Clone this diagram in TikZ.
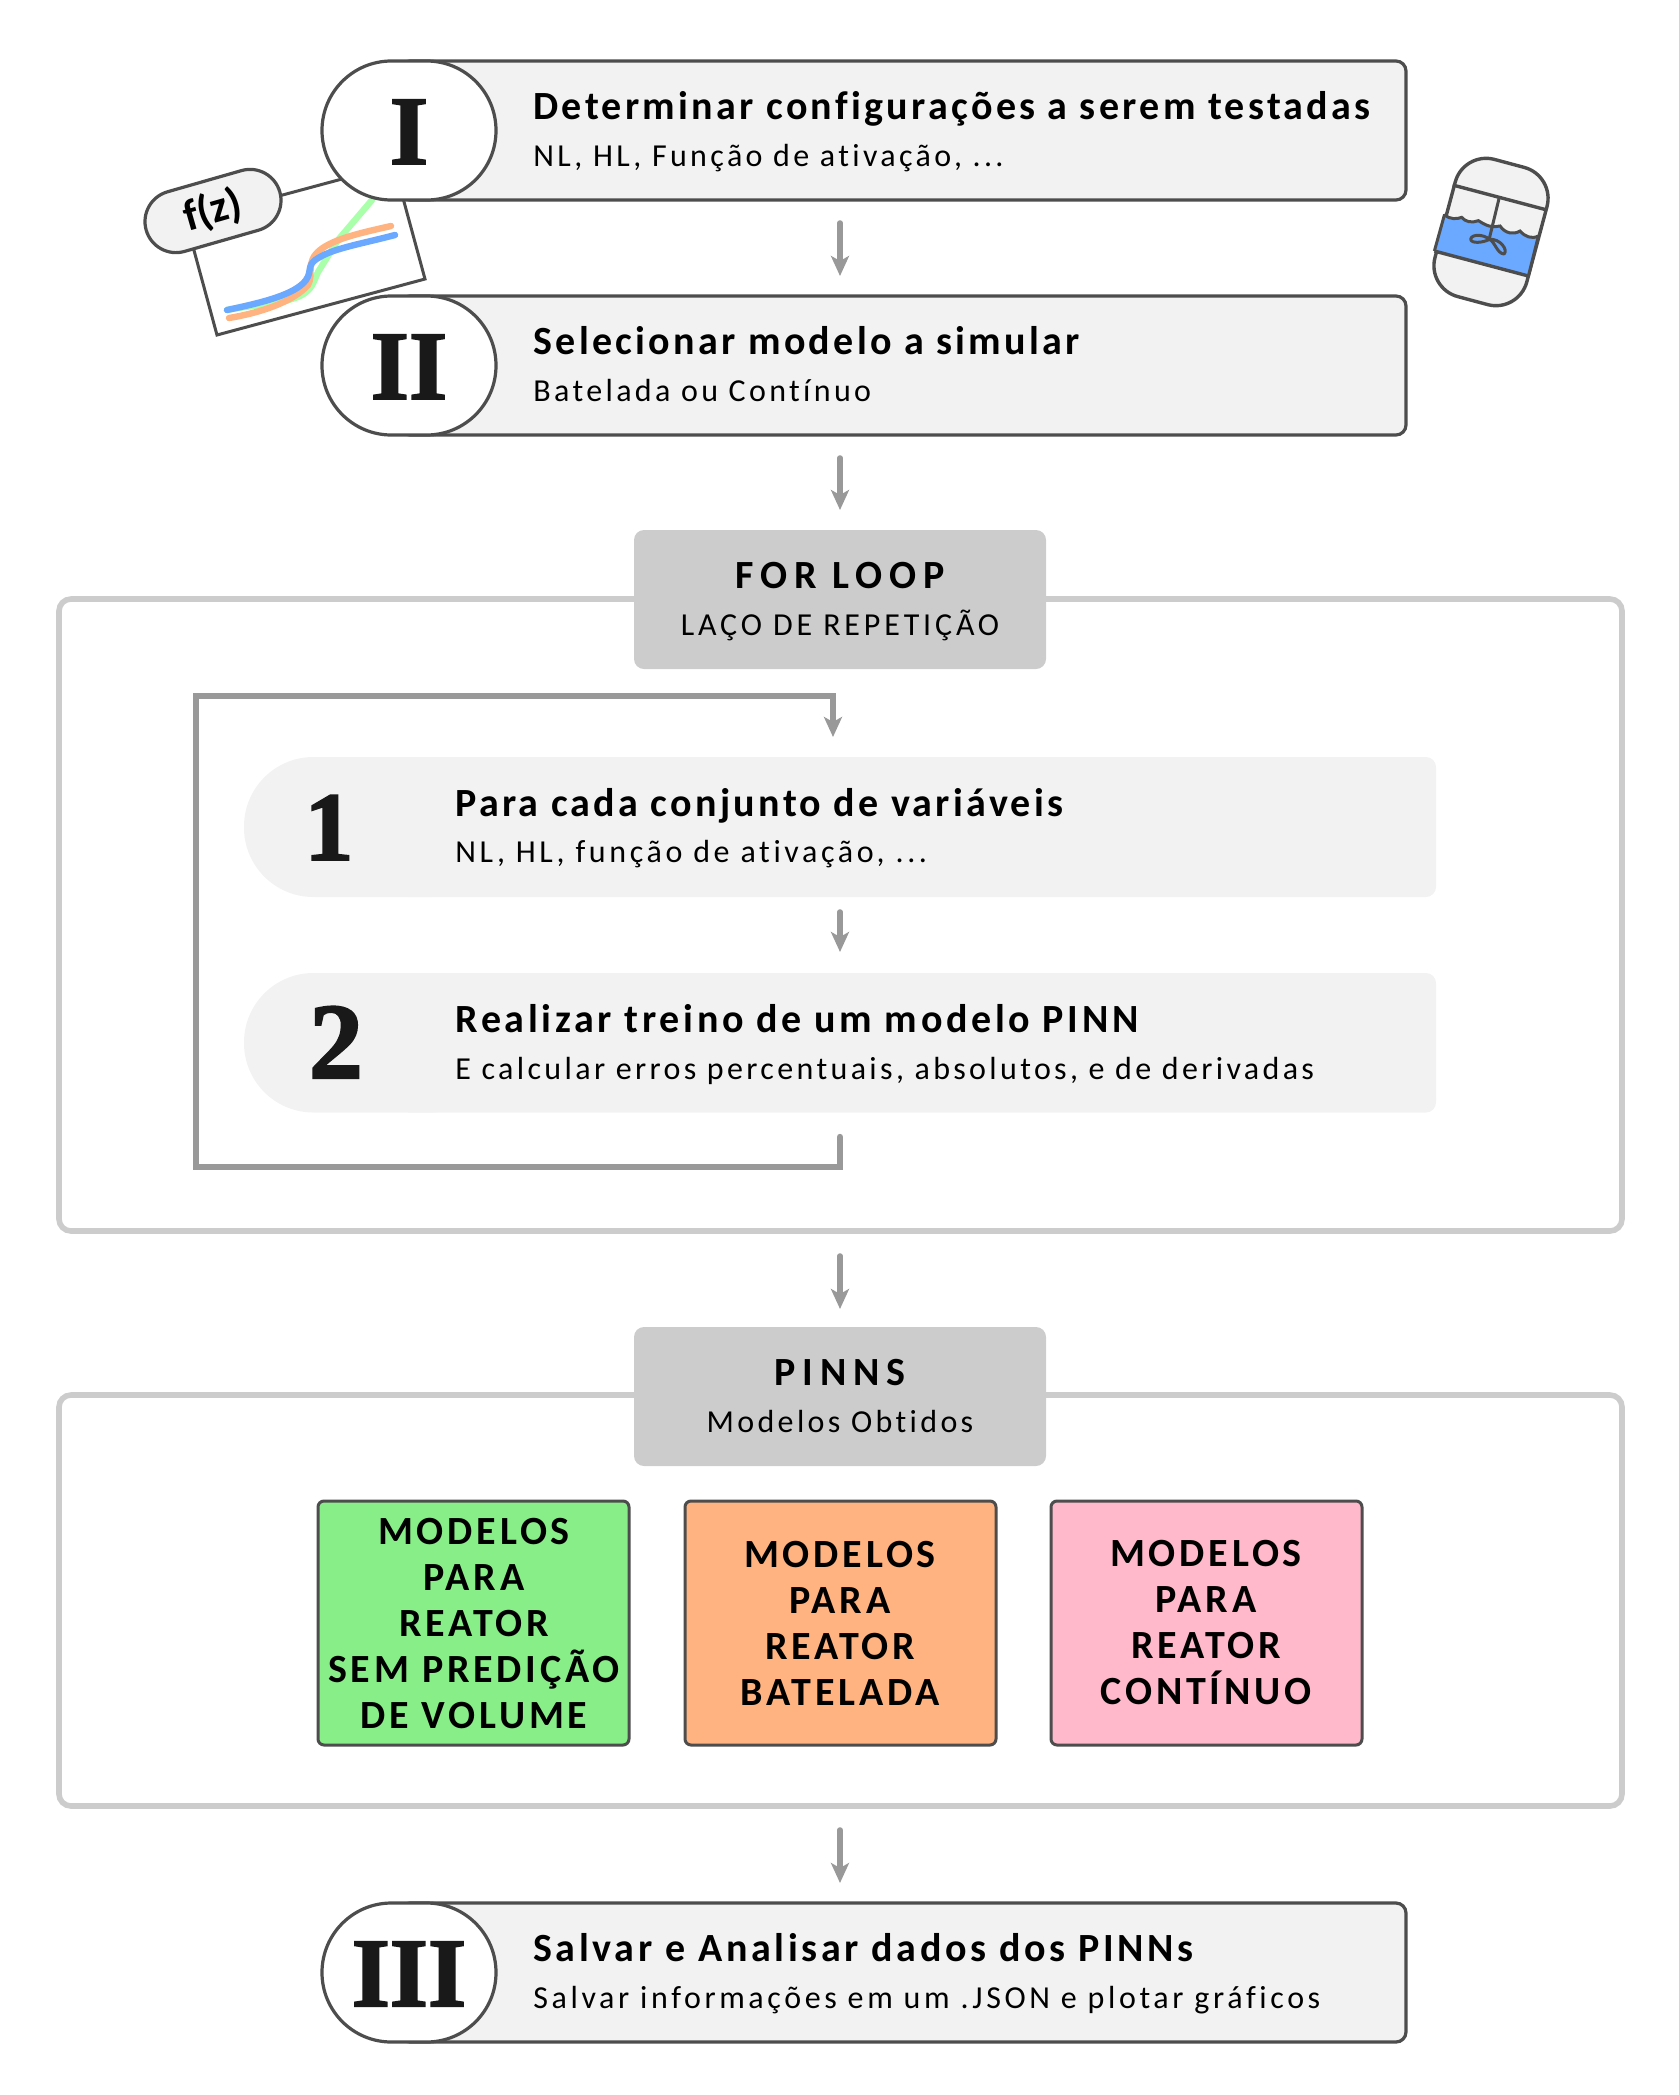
\documentclass[tikz,border=0pt]{standalone}
\usepackage{fontspec}
\usetikzlibrary{arrows.meta}
\newfontfamily\hfont[LetterSpace=8.3,Ligatures=NoCommon]{Carlito}
\newfontfamily\hwfont[LetterSpace=9.2,Ligatures=NoCommon]{Carlito}
\newfontfamily\mfont[LetterSpace=9.5,Ligatures=NoCommon]{Carlito}
\newfontfamily\lfont[LetterSpace=17,Ligatures=NoCommon]{Carlito}
\newfontfamily\sfont[LetterSpace=10.5,Ligatures=NoCommon]{Carlito}
\newfontfamily\swfont[LetterSpace=11.3,Ligatures=NoCommon]{Carlito}
\newfontfamily\scfont[LetterSpace=12,Ligatures=NoCommon]{Carlito}
\newfontfamily\pfont{Carlito}
\newfontfamily\nfont[FakeBold=2]{Liberation Serif Bold}
\newcommand\hd[1]{{\hfont\bfseries\fontsize{20}{23}\selectfont #1}}
\newcommand\hdw[1]{{\hwfont\bfseries\fontsize{20}{23}\selectfont #1}}
\newcommand\labhd[1]{{\lfont\bfseries\fontsize{20}{23}\selectfont #1}}
\newcommand\sbt[1]{{\sfont\fontsize{16}{19}\selectfont #1}}
\newcommand\sbtw[1]{{\swfont\fontsize{16}{19}\selectfont #1}}
\newcommand\numeralt[2][49]{{\nfont\fontsize{#1}{#1}\selectfont #2}}
\newcommand\bx[6]{\node[#2,minimum width={((#5)-(#3))*0.5pt},minimum height={((#6)-(#4))*0.5pt}] (#1) at ({((#3)+(#5))/2},{((#4)+(#6))/2}) {};}
\definecolor{ink}{HTML}{4D4D4D}
\definecolor{pale}{HTML}{F2F2F2}
\definecolor{lab}{HTML}{CCCCCC}
\definecolor{arrg}{HTML}{999999}
\definecolor{cblue}{HTML}{6AA9FF}
\definecolor{corange}{HTML}{FFB380}
\definecolor{cgreen}{HTML}{AAFFAA}
\definecolor{cmint}{HTML}{88EE88}
\definecolor{cpink}{HTML}{FFB9CB}
\tikzset{
  shape box/.style={rectangle,inner sep=0pt,outer sep=0pt},
  graybox/.style={shape box,draw=ink,line width=1.6pt,fill=pale,rounded corners=5pt},
  whitepill/.style={shape box,draw=ink,line width=1.6pt,fill=white,rounded corners=34.7pt},
  softbox/.style={shape box,fill=pale,rounded corners=5pt},
  softpill/.style={shape box,fill=pale,rounded corners=34.7pt},
  labelbox/.style={shape box,fill=lab,rounded corners=5pt},
  frame/.style={shape box,draw=lab,line width=2.8pt,rounded corners=6pt},
  modelbox/.style={shape box,draw=ink,line width=1.5pt,rounded corners=3pt},
  arr/.style={draw=arrg,line width=2.8pt,line cap=round,-{Stealth[length=10pt,width=9pt,inset=2.5pt]}},
  title/.style={anchor=base west,inner sep=0pt,text=black},
  ctitle/.style={anchor=base,inner sep=0pt,text=black},
  numeral/.style={anchor=base,inner sep=0pt,text=black!90},
  modeltext/.style={align=center,inner sep=0pt,text=black,font=\mfont\bfseries\fontsize{20}{23}\selectfont},
}
\begin{document}
\begin{tikzpicture}[x=0.5pt,y=-0.5pt]
\useasboundingbox (0,0) rectangle (1679,2095);
\coordinate (ax) at (840,0);

% frames
\bx{frameA}{frame}{59}{599}{1622}{1231}
\bx{frameB}{frame}{59}{1395}{1622}{1806}

% plot
\draw[ink,line width=1.5pt,fill=white,line join=miter] (186,221) -- (394,165) -- (425,279) -- (217,335) -- cycle;
\draw[cgreen,line width=3.2pt,line cap=round] (372,200) -- (338,240) -- (318,272) .. controls (313,283) and (312,290) .. (300,296) .. controls (280,305) and (250,305) .. (227,310);
\draw[corange,line width=3.2pt,line cap=round] (229,318) .. controls (265,312) and (295,300) .. (308,285) .. controls (314,275) and (305,262) .. (320,250) .. controls (335,238) and (365,232) .. (391,226);
\draw[cblue,line width=3.2pt,line cap=round] (227,310) .. controls (260,303) and (295,295) .. (306,280) .. controls (313,270) and (305,265) .. (320,257) .. controls (335,248) and (365,243) .. (395,235);

% top boxes
\bx{boxIg}{graybox}{400}{61}{1406}{200}
\bx{boxI}{whitepill}{322}{61}{496}{200}
\bx{boxIIg}{graybox}{400}{296}{1406}{435}
\bx{boxII}{whitepill}{322}{296}{496}{435}
\bx{boxIIIg}{graybox}{400}{1903}{1406}{2042}
\bx{boxIII}{whitepill}{322}{1903}{496}{2042}

\node[shape box,draw=ink,line width=1.6pt,fill=pale,minimum width=69.5pt,minimum height=31pt,rounded corners=15.5pt,rotate=16] (fz) at (213,211)
  {\pfont\bfseries\fontsize{22}{23}\selectfont f(z)};

% reactor
\node[shape box,draw=ink,line width=1.7pt,fill=pale,minimum width=47.5pt,minimum height=71pt,rounded corners=16pt,rotate=-15] (reactor) at (1491,232) {};
\begin{scope}[x=0.16667pt,y=-0.16667pt,shift={(4200,390)}]
  \fill[cblue] (133,255) .. controls (150,268) and (170,268) .. (185,262) .. controls (195,275) and (215,280) .. (235,272) .. controls (250,280) and (265,295) .. (300,288) .. controls (315,310) and (340,315) .. (360,303) .. controls (375,320) and (395,328) .. (415,318) -- (385,438) -- (103,363) -- cycle;
  \draw[ink,line width=1.5pt,line cap=round] (133,255) .. controls (150,268) and (170,268) .. (185,262) .. controls (195,275) and (215,280) .. (235,272) .. controls (250,280) and (265,295) .. (300,288) .. controls (315,310) and (340,315) .. (360,303) .. controls (375,320) and (395,328) .. (415,318);
  \draw[ink,line width=1.7pt] (158,165) -- (441,240);
  \draw[ink,line width=1.7pt] (103,363) -- (385,438);
  \draw[ink,line width=1.5pt] (133,255) -- (103,363);
  \draw[ink,line width=1.5pt] (415,318) -- (385,438);
  \draw[ink,line width=1.5pt] (297,205) -- (268,325);
  \draw[ink,line width=1.5pt,line cap=round,line join=round] (268,328) .. controls (250,312) and (215,312) .. (212,327) .. controls (212,342) and (250,338) .. (268,328) .. controls (285,335) and (290,370) .. (312,372) .. controls (325,360) and (300,325) .. (268,328);
\end{scope}

% titles
\node[title] (t1a) at (533,119) {\hd{Determinar configurações a serem testadas}};
\node[title] (t1b) at (533,166) {\sbt{NL, HL, Função de ativação, ...}};
\node[title] (t2a) at (533,354) {\hd{Selecionar modelo a simular}};
\node[title] (t2b) at (533,401) {\sbt{Batelada ou Contínuo}};
\node[title] (t3a) at (533,1961) {\hdw{Salvar e Analisar dados dos PINNs}};
\node[title] (t3b) at (533,2008) {\sbtw{Salvar informações em um .JSON e plotar gráficos}};
\node[numeral] (nI) at (409,164) {\numeralt{I}};
\node[numeral] (nII) at (409,399) {\numeralt{II}};
\node[numeral] (nIII) at (409,2006) {\numeralt{III}};

% label boxes
\bx{forbox}{labelbox}{634}{530}{1046}{669}
\node[ctitle] (f1) at (840,588) {\labhd{FOR LOOP}};
\node[ctitle] (f2) at (840,635) {{\scfont\fontsize{16}{19}\selectfont LAÇO DE REPETIÇÃO}};
\bx{pinnbox}{labelbox}{634}{1327}{1046}{1466}
\node[ctitle] (p1) at (840,1385) {\labhd{PINNS}};
\node[ctitle] (p2) at (840,1432) {\sbt{Modelos Obtidos}};

% inner steps
\bx{s1g}{softbox}{400}{757}{1436}{897}
\bx{s1}{softpill}{244}{757}{500}{897}
\bx{s2g}{softbox}{400}{973}{1436}{1112.5}
\bx{s2}{softpill}{244}{973}{500}{1112.5}
\node[numeral] (n1) at (329,860) {\numeralt{1}};
\node[numeral] (n2) at (336,1078) {\numeralt[54]{2}};
\node[title] (s1a) at (455,816) {\hd{Para cada conjunto de variáveis}};
\node[title] (s1b) at (455,862) {\sbtw{NL, HL, função de ativação, ...}};
\node[title] (s2a) at (455,1032) {\hdw{Realizar treino de um modelo PINN}};
\node[title] (s2b) at (455,1079) {\sbt{E calcular erros percentuais, absolutos, e de derivadas}};

% model boxes
\bx{mg}{modelbox,fill=cmint}{318}{1501}{629}{1745}
\bx{mo}{modelbox,fill=corange}{685}{1501}{996}{1745}
\bx{mp}{modelbox,fill=cpink}{1051}{1501}{1362}{1745}
\node[modeltext] (mgt) at (474,1624) {MODELOS\\PARA\\REATOR\\SEM PREDIÇÃO\\DE VOLUME};
\node[modeltext] (mot) at (840,1623) {MODELOS\\PARA\\REATOR\\BATELADA};
\node[modeltext] (mpt) at (1206,1623) {MODELOS\\PARA\\REATOR\\CONTÍNUO};

% connectors
\draw[arr,shorten <=11.5pt,shorten >=10pt] (boxIg.south -| ax) -- (boxIIg.north -| ax);
\draw[arr,shorten <=11.5pt,shorten >=10pt] (boxIIg.south -| ax) -- (forbox.north -| ax);
\draw[arr,shorten <=12.5pt,shorten >=9pt] (frameA.south -| ax) -- (pinnbox.north -| ax);
\draw[arr,shorten <=12pt,shorten >=10pt] (frameB.south -| ax) -- (boxIIIg.north -| ax);
\draw[arr,shorten <=7.5pt,shorten >=10.5pt] (s1g.south -| ax) -- (s2g.north -| ax);
\coordinate (loopstart) at (840,1137);
\coordinate (loopa) at (840,1167);
\coordinate (loopb) at (196,1167);
\coordinate (loopc) at (196,696);
\coordinate (loopd) at (833,696);
\coordinate (loopend) at (833,737);
\draw[arr,line width=3.2pt,line join=miter] (loopstart) -- (loopa) -- (loopb) -- (loopc) -- (loopd) -- (loopend);
\end{tikzpicture}
\end{document}
